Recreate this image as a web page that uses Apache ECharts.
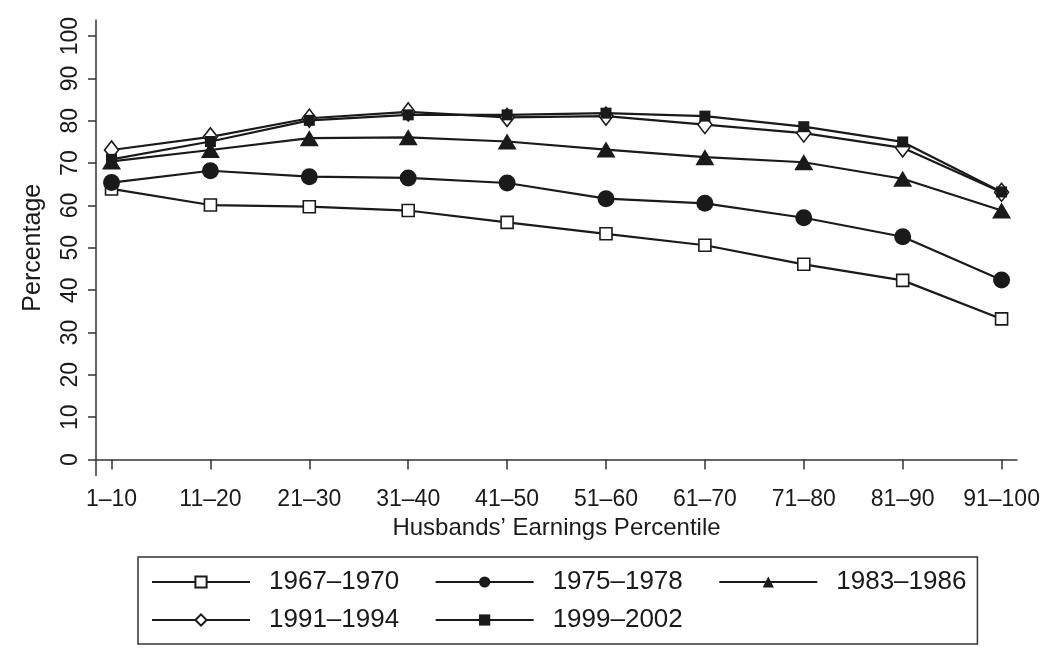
<!DOCTYPE html>
<html>
<head>
<meta charset="utf-8">
<script src="https://cdn.jsdelivr.net/npm/echarts@6/dist/echarts.min.js"></script>
<style>
  html, body { margin: 0; padding: 0; background: #fff; }
  #chart { width: 1050px; height: 659px; }
</style>
</head>
<body>
<div id="chart"></div>
<script>
// percentile groups on the x axis
const categories = ['1–10', '11–20', '21–30', '31–40', '41–50', '51–60', '61–70', '71–80', '81–90', '91–100']
const yTicks = [0, 10, 20, 30, 40, 50, 60, 70, 80, 90, 100]

// values (percentage)
const s1967 = [63.9, 60.1, 59.7, 58.8, 56.0, 53.3, 50.6, 46.1, 42.3, 33.2]
const s1975 = [65.4, 68.2, 66.8, 66.5, 65.3, 61.6, 60.5, 57.1, 52.6, 42.4]
const s1983 = [70.4, 73.1, 75.9, 76.1, 75.1, 73.2, 71.4, 70.2, 66.3, 58.8]
const s1991 = [73.1, 76.2, 80.6, 82.1, 80.8, 81.1, 79.1, 77.1, 73.6, 63.1]
const s1999 = [70.9, 75.1, 80.1, 81.4, 81.4, 81.8, 81.1, 78.6, 75.0, 63.2]

const font = 'Liberation Sans, Arial, Helvetica, sans-serif'
const ink = '#1a1a1a'

// x positions are 1..10, labelled with the categories
const toPoints = arr => arr.map((v, i) => [i + 1, v])

function lineSeries(name, data, symbol, size, hollow) {
  return {
    name: name,
    type: 'line',
    data: toPoints(data),
    symbol: symbol,
    symbolSize: size,
    showAllSymbol: true,
    lineStyle: { color: ink, width: 2.2 },
    itemStyle: hollow
      ? { color: '#fff', borderColor: ink, borderWidth: 1.6 }
      : { color: ink, borderWidth: 0 },
    emphasis: { disabled: true },
    animation: false
  }
}

const legendText = {
  fontFamily: font,
  fontSize: 26,
  color: ink,
  lineHeight: 26,
  padding: [0, 0, 0, 14]
}

const chart = echarts.init(document.getElementById('chart'), null, { renderer: 'canvas' })
chart.setOption({
  backgroundColor: '#fff',
  animation: false,
  grid: { left: 96, right: 33, top: 20, bottom: 183.5 },
  xAxis: {
    type: 'value',
    min: 0.843,
    max: 10.156,
    name: 'Husbands’ Earnings Percentile',
    nameLocation: 'middle',
    nameGap: 40,
    nameTextStyle: { fontFamily: font, fontSize: 24, color: ink },
    axisLine: { show: true, lineStyle: { color: '#333', width: 1.5 } },
    axisTick: { show: true, length: 10, customValues: categories.map((c, i) => i + 1), lineStyle: { color: '#333', width: 1.5 } },
    axisLabel: {
      customValues: categories.map((c, i) => i + 1),
      formatter: v => categories[Math.round(v) - 1],
      fontFamily: font, fontSize: 23, color: ink, margin: 13
    },
    splitLine: { show: false }
  },
  yAxis: {
    type: 'value',
    min: -3.78,
    max: 103.8,
    name: 'Percentage',
    nameLocation: 'middle',
    nameGap: 50,
    nameTextStyle: { fontFamily: font, fontSize: 25, color: ink },
    axisLine: { show: true, lineStyle: { color: '#333', width: 1.5 } },
    axisTick: { show: true, length: 8, customValues: yTicks, lineStyle: { color: '#333', width: 1.5 } },
    axisLabel: {
      customValues: yTicks,
      rotate: 90,
      fontFamily: font, fontSize: 23, color: ink, margin: 14
    },
    splitLine: { show: false }
  },
  legend: [
    {
      data: ['1967–1970', '1975–1978', '1983–1986'],
      left: 138,
      top: 557,
      orient: 'horizontal',
      padding: [12, 11, 49, 13],
      itemWidth: 98,
      itemHeight: 14,
      itemGap: 35.5,
      borderColor: '#333',
      borderWidth: 1.5,
      selectedMode: false,
      textStyle: legendText
    },
    {
      data: ['1991–1994', '1999–2002'],
      left: 151,
      top: 607,
      orient: 'horizontal',
      padding: 0,
      itemWidth: 98,
      itemHeight: 14,
      itemGap: 35.5,
      selectedMode: false,
      textStyle: legendText
    }
  ],
  series: [
    lineSeries('1967–1970', s1967, 'rect', 12, true),
    lineSeries('1975–1978', s1975, 'circle', 17, false),
    lineSeries('1983–1986', s1983, 'triangle', [19, 16], false),
    lineSeries('1991–1994', s1991, 'diamond', [14, 18], true),
    lineSeries('1999–2002', s1999, 'rect', 11, false)
  ]
})
</script>
</body>
</html>
